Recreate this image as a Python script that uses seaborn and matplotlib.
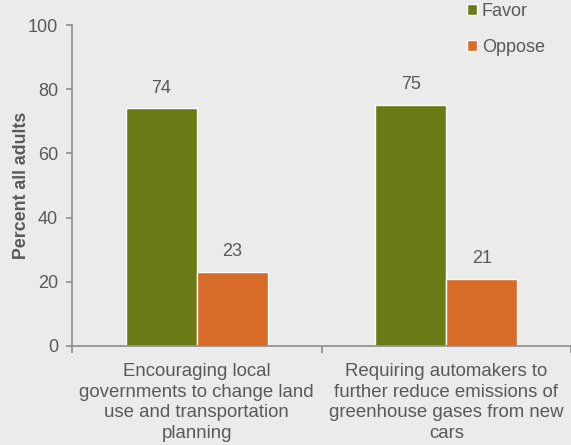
import matplotlib
matplotlib.use("Agg")
import matplotlib.pyplot as plt
import seaborn as sns
import pandas as pd

categories = ["Encouraging local\ngovernments to change land\nuse and transportation\nplanning",
              "Requiring automakers to\nfurther reduce emissions of\ngreenhouse gases from new\ncars"]
favor = [74, 75]
oppose = [23, 21]
series = ["Favor", "Oppose"]
colors = ["#6A7A15", "#D86B27"]
yticks = [0, 20, 40, 60, 80, 100]

df = pd.DataFrame({
    "cat": categories * 2,
    "value": favor + oppose,
    "series": [series[0]] * 2 + [series[1]] * 2,
})

sns.set_theme(style="white")
plt.rcParams['font.family'] = ['Liberation Sans', 'DejaVu Sans']
bg = "#EBEBEB"
txt = "#595959"
axc = "#8C8C8C"
FS = 13
fig = plt.figure(figsize=(5.71, 4.45), dpi=100, facecolor=bg)
ax = fig.add_axes([72/571, 1-346/445, (571-72)/571, (346-25)/445])
ax.set_facecolor(bg)

sns.barplot(data=df, x="cat", y="value", hue="series", hue_order=series, palette=colors,
            width=0.57, ax=ax, saturation=1, legend=True)

for cont in ax.containers:
    ax.bar_label(cont, padding=8.5, fontsize=FS, color=txt)

ax.set_ylim(0, 100)
ax.set_xlim(-0.5, 1.5)
ax.set_yticks(yticks)
ax.set_xlabel("")
ax.set_ylabel("Percent all adults", fontsize=12.8, fontweight="bold", color=txt)
ax.yaxis.set_label_coords((30 - 72) / 499, 0.5)
ax.tick_params(axis="y", left=True, length=4, width=1.2, color=axc, labelsize=FS, labelcolor=txt, pad=6)
ax.set_xticks([-0.5, 0.5, 1.5], minor=False)
ax.set_xticklabels(["", "", ""])
ax.tick_params(axis="x", bottom=True, length=5, width=1.2, color=axc, direction="out")
ax.set_xticks([0, 1], minor=True)
ax.set_xticklabels(categories, minor=True, fontsize=13.4, color=txt, linespacing=1.27)
ax.tick_params(axis="x", which="minor", length=0, pad=12.5)

for s in ["top", "right"]:
    ax.spines[s].set_visible(False)
for s in ["left", "bottom"]:
    ax.spines[s].set_color(axc)
    ax.spines[s].set_linewidth(1.2)

leg = ax.legend(loc="upper left", bbox_to_anchor=(467/571, 1 - 3/445), bbox_transform=fig.transFigure,
                frameon=False, fontsize=FS, handlelength=0.57, handleheight=0.57,
                handletextpad=0.25, labelspacing=1.05, borderaxespad=0, borderpad=0)
for t in leg.get_texts():
    t.set_color(txt)

fig.savefig("out.png", dpi=100, facecolor=bg)
